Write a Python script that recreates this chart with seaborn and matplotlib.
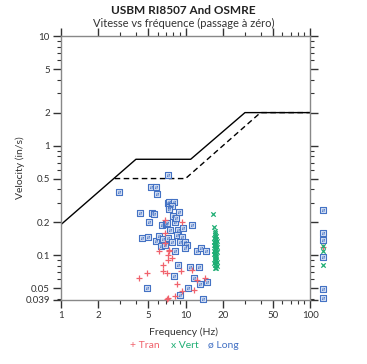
import matplotlib
matplotlib.use("Agg")
import matplotlib.pyplot as plt
import matplotlib.ticker as mticker
import numpy as np
import pandas as pd
import seaborn as sns

# ---- data ----
# OSMRE limit (solid) and USBM RI8507 limit (dashed)
osmre_freq = [1, 4, 11, 30, 100]
osmre_vel = [0.19, 0.75, 0.75, 2.0, 2.0]
usbm_freq = [2.7, 10, 40, 100]
usbm_vel = [0.5, 0.5, 2.0, 2.0]

tran_freq = [4.2, 4.9, 6.8, 6.85, 6.1, 6.6, 6.55, 7.1, 7.3, 7.2, 7.4, 9.3, 7.4, 7.75,
             7.2, 9.2, 11.2, 12.3, 14.3, 8.5, 9.3, 11.6, 8.2, 7.05, 6.9, 126]
tran_vel = [0.062, 0.068, 0.21, 0.158, 0.108, 0.081, 0.072, 0.069, 0.10, 0.041, 0.112,
            0.202, 0.108, 0.095, 0.090, 0.071, 0.073, 0.059, 0.062, 0.054, 0.047, 0.048,
            0.042, 0.040, 0.13, 0.118]

vert_freq = [16.7, 17.0, 17.2, 17.4, 17.1, 17.6, 17.3, 16.9, 17.5, 17.8, 17.2, 17.0,
             17.4, 17.7, 17.3, 16.8, 17.5, 17.9, 17.1, 17.6, 17.2, 17.4, 16.9, 17.8,
             17.3, 17.0, 17.5, 17.2, 17.7, 17.4, 17.1, 17.6, 17.3, 17.9, 17.0, 17.5,
             17.2, 17.8, 17.4, 17.6, 126, 126, 126]
vert_vel = [0.238, 0.182, 0.165, 0.158, 0.152, 0.148, 0.145, 0.142, 0.139, 0.136, 0.134,
            0.131, 0.129, 0.127, 0.125, 0.123, 0.121, 0.119, 0.117, 0.115, 0.113, 0.111,
            0.109, 0.107, 0.105, 0.103, 0.101, 0.099, 0.097, 0.095, 0.093, 0.091, 0.089,
            0.087, 0.085, 0.083, 0.081, 0.079, 0.077, 0.076, 0.12, 0.11, 0.081]

long_freq = [2.9, 5.3, 5.8, 5.9, 4.3, 5.4, 5.6, 5.1, 6.5, 7.0, 4.5, 5.0, 5.8, 6.1, 6.6,
             6.4, 6.9, 7.2, 7.4, 7.2, 4.9, 7.4, 8.1, 7.4, 7.8, 7.4, 8.9, 7.05, 8.2, 7.5,
             8.7, 9.6, 8.5, 9.3, 7.2, 7.75, 9.0, 9.9, 10.2, 9.9, 12.3, 13.3, 14.5, 8.2,
             8.7, 10.9, 12.9, 8.1, 11.7, 13.0, 14.8, 10.4, 9.0, 13.9, 11.2, 8.0, 8.4,
             126, 126, 126, 126, 126, 126]
long_vel = [0.375, 0.42, 0.42, 0.36, 0.245, 0.245, 0.237, 0.20, 0.187, 0.193, 0.143,
            0.145, 0.136, 0.150, 0.140, 0.121, 0.124, 0.297, 0.28, 0.54, 0.050, 0.306,
            0.306, 0.277, 0.28, 0.265, 0.25, 0.195, 0.202, 0.17, 0.17, 0.176, 0.152,
            0.147, 0.143, 0.133, 0.133, 0.133, 0.124, 0.116, 0.108, 0.116, 0.108, 0.108,
            0.081, 0.078, 0.078, 0.065, 0.062, 0.055, 0.057, 0.050, 0.043, 0.040, 0.189,
            0.23, 0.22, 0.258, 0.158, 0.137, 0.096, 0.049, 0.041]

x_ticks = [1, 2, 5, 10, 20, 50, 100]
y_ticks = [0.039, 0.05, 0.1, 0.2, 0.5, 1, 2, 5, 10]

red = "#f0626c"
green = "#1fae74"
blue = "#4472c4"

sns.set_theme(style="white")
plt.rcParams["font.family"] = ["Lato", "DejaVu Sans"]

fig = plt.figure(figsize=(3.67, 3.64), dpi=100)
ax = fig.add_axes([0.166, 0.176, 0.679, 0.725])

guides = pd.DataFrame({"f": osmre_freq, "v": osmre_vel})
sns.lineplot(data=guides, x="f", y="v", ax=ax, color="black", lw=1.0, sort=False)
guides2 = pd.DataFrame({"f": usbm_freq, "v": usbm_vel})
sns.lineplot(data=guides2, x="f", y="v", ax=ax, color="black", lw=1.0, sort=False,
             dashes=False, linestyle=(0, (4, 2.5)))

df_long = pd.DataFrame({"f": long_freq, "v": long_vel})
sns.scatterplot(data=df_long, x="f", y="v", ax=ax, marker="s", s=14,
                facecolor="#dce5f5", edgecolor=blue, linewidth=0.8, clip_on=False, zorder=3)
sns.scatterplot(data=df_long, x="f", y="v", ax=ax, marker="$ø$", s=7,
                color=blue, linewidth=0, clip_on=False, zorder=4)
df_tran = pd.DataFrame({"f": tran_freq, "v": tran_vel})
sns.scatterplot(data=df_tran, x="f", y="v", ax=ax, marker="+", s=22,
                color=red, linewidth=0.9, clip_on=False, zorder=5)
df_vert = pd.DataFrame({"f": vert_freq, "v": vert_vel})
sns.scatterplot(data=df_vert, x="f", y="v", ax=ax, marker="x", s=10,
                color=green, linewidth=0.9, clip_on=False, zorder=5)

ax.set_xscale("log")
ax.set_yscale("log")
ax.set_xlim(1, 100)
ax.set_ylim(0.039, 10)

ax.xaxis.set_major_locator(mticker.FixedLocator(x_ticks))
ax.xaxis.set_major_formatter(mticker.FixedFormatter([str(t) for t in x_ticks]))
ax.xaxis.set_minor_locator(mticker.LogLocator(base=10, subs=np.arange(2, 10)))
ax.xaxis.set_minor_formatter(mticker.NullFormatter())
ax.yaxis.set_major_locator(mticker.FixedLocator(y_ticks))
ax.yaxis.set_major_formatter(mticker.FixedFormatter([f"{t:g}" for t in y_ticks]))
ax.yaxis.set_minor_locator(mticker.LogLocator(base=10, subs=np.arange(2, 10)))
ax.yaxis.set_minor_formatter(mticker.NullFormatter())

ax.tick_params(which="both", direction="out", top=True, right=True,
               bottom=True, left=True, color="#333333", labelsize=7,
               labelcolor="#333333", pad=2)
ax.tick_params(which="major", length=6, width=1.0)
ax.tick_params(which="minor", length=3, width=0.8)

for side in ax.spines.values():
    side.set_color("#888888")
    side.set_linewidth(1.0)

ax.set_xlabel("")
ax.set_ylabel("")
ax.grid(False)

fig.text(0.5, 0.088, "Frequency (Hz)", ha="center", va="center", fontsize=7.5,
         color="#333333")
fig.text(0.055, 0.54, "Velocity (in/s)", ha="center", va="center", rotation=90,
         fontsize=7.5, color="#333333")

fig.text(0.5, 0.972, "USBM RI8507 And OSMRE", ha="center", va="center", fontsize=8.5,
         fontweight="bold", color="#222222")
fig.text(0.5, 0.935, "Vitesse vs fréquence (passage à zéro)", ha="center",
         va="center", fontsize=8, color="#333333")

# colour-coded legend line under the x label
fig.text(0.355, 0.052, "+ Tran", color=red, fontsize=7.5, ha="left", va="center")
fig.text(0.467, 0.052, "x Vert", color=green, fontsize=7.5, ha="left", va="center")
fig.text(0.567, 0.052, "ø Long", color=blue, fontsize=7.5, ha="left", va="center")

fig.savefig("out.png", dpi=100)
